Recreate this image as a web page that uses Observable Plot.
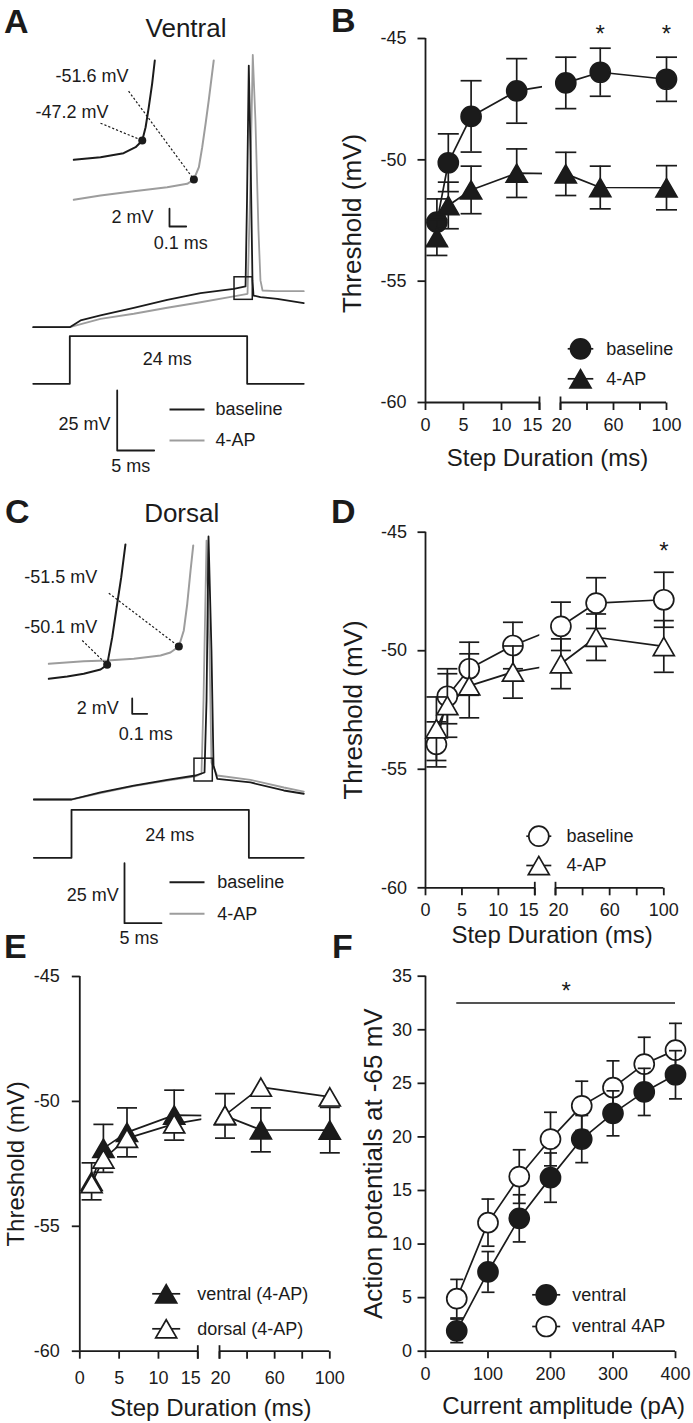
<!DOCTYPE html>
<html>
<head>
<meta charset="utf-8">
<script src="https://cdn.jsdelivr.net/npm/d3@7"></script>
<script src="https://cdn.jsdelivr.net/npm/@observablehq/plot@0.6"></script>
<style>
  html, body { margin: 0; padding: 0; background: #ffffff; }
  #fig { position: relative; width: 693px; height: 1423px; overflow: hidden; background: #fff; }
  #fig > svg { position: absolute; }
</style>
</head>
<body>
<div id="fig"></div>
<script>
// ================= DATA =================
// Panels B, D, E: spike threshold (mV) vs step duration (ms), mean and SEM
const durations = [1.5, 3, 6, 12, 24, 50, 100];
const ventralBaseline    = [-52.57, -50.12, -48.21, -47.16, -46.83, -46.39, -46.68];
const ventralBaselineSem = [0.96, 1.19, 1.47, 1.33, 1.06, 0.99, 0.91];
const ventral4AP         = [-53.20, -51.88, -51.24, -50.55, -50.58, -51.14, -51.15];
const ventral4APSem      = [0.74, 0.96, 0.98, 1.00, 0.89, 0.88, 0.91];
const dorsalBaseline     = [-53.95, -51.92, -50.76, -49.78, -48.97, -47.99, -47.85];
const dorsalBaselineSem  = [0.95, 1.16, 1.12, 0.98, 1.02, 1.07, 1.16];
const dorsal4AP          = [-53.29, -52.31, -51.48, -50.90, -50.55, -49.43, -49.82];
const dorsal4APSem       = [1.34, 1.34, 1.35, 1.10, 1.05, 0.98, 1.09];

// Panel F: action potentials at -65 mV vs current amplitude (pA)
const currentAmplitudes = [50, 100, 150, 200, 250, 300, 350, 400];
const apsVentral        = [1.9, 7.4, 12.4, 16.2, 19.8, 22.2, 24.2, 25.8];
const apsVentralSem     = [1.1, 1.9, 2.2, 2.3, 2.2, 2.1, 2.2, 2.25];
const apsVentral4AP     = [4.9, 12.0, 16.3, 19.8, 22.9, 24.6, 26.8, 28.1];
const apsVentral4APSem  = [1.8, 2.2, 2.5, 2.5, 2.3, 2.5, 2.5, 2.5];

// Axis ticks
const thresholdTicks = [-60, -55, -50, -45];
const durationTicks = [0, 5, 10, 15, 20, 40, 60, 80, 100];
const durationTickLabels = ["0", "5", "10", "15", "20", "", "60", "", "100"];
const durationSegments = [[0, 15], [20, 100]];
const currentTicks = [0, 100, 200, 300, 400];
const apTicks = [0, 5, 10, 15, 20, 25, 30, 35];

// Panel A (ventral) membrane-potential traces: time (ms from step onset), Vm (mV)
const ventralBaseT  = [-4.95, 0, 1.45, 4.15, 8.66, 13.18, 17.69, 22.19, 23.78, 23.98, 24.22, 24.45, 24.72, 24.86, 25.80, 28.07, 31.66];
const ventralBaseV  = [-65, -65, -62.2, -60.1, -56.9, -53.6, -50.8, -49.0, -48.0, -12.2, 44.0, 8.6, -45.5, -51.8, -52.5, -53.2, -55.0];
const ventral4APT   = [-4.95, 0, 4.15, 8.66, 13.18, 17.69, 22.19, 24.05, 24.38, 24.76, 25.12, 25.53, 25.80, 26.08, 27.83, 31.66];
const ventral4APV   = [-65, -65, -61.5, -59.4, -56.9, -54.6, -52.2, -51.1, -12.2, 48.5, 21.1, -24.7, -45.5, -49.7, -50.0, -50.0];
// Panel A inset (expanded onset): time (ms), Vm (mV)
const ventralInsetBaseT = [0, 0.16, 0.298, 0.37, 0.40, 0.41, 0.43, 0.449, 0.469, 0.485];
const ventralInsetBaseV = [-49.37, -49.08, -48.63, -47.95, -47.39, -47.2, -45.71, -43.46, -40.83, -38.21];
const ventralInset4APT  = [0, 0.16, 0.359, 0.559, 0.679, 0.719, 0.749, 0.769, 0.789, 0.808, 0.838];
const ventralInset4APV  = [-53.86, -53.38, -52.9, -52.45, -52.07, -51.58, -50.2, -47.95, -45.32, -42.7, -38.21];
const ventralThrT = [0.41, 0.719];
const ventralThrV = [-47.2, -51.58];
const ventralThrLabels = ["-47.2 mV", "-51.6 mV"];

// Panel C (dorsal) traces
const dorsalBaseT = [-5.1, 0, 3.92, 8.43, 12.95, 16.78, 18.0, 18.27, 18.54, 18.94, 19.22, 19.72, 24.22, 28.73, 31.43];
const dorsalBaseV = [-65, -65, -62.0, -59.2, -56.8, -55.0, -53.75, -23.75, 44.6, -2.9, -50.8, -56.4, -57.9, -61.25, -62.6];
const dorsal4APT  = [-5.1, 0, 3.92, 8.43, 12.95, 16.78, 17.59, 17.86, 18.27, 18.67, 18.94, 19.72, 24.22, 28.73, 31.43];
const dorsal4APV  = [-65, -65, -62.3, -59.4, -57.1, -55.4, -54.2, -23.75, 42.9, -2.9, -49.6, -55.0, -56.8, -60.0, -61.7];
const dorsalInsetBaseT = [0, 0.123, 0.233, 0.345, 0.389, 0.423, 0.456, 0.483, 0.511];
const dorsalInsetBaseV = [-55.69, -55.4, -55.05, -54.49, -53.88, -50.29, -45.95, -42.5, -38.25];
const dorsalInset4APT  = [0, 0.233, 0.389, 0.567, 0.745, 0.811, 0.867, 0.9, 0.923, 0.945, 0.963];
const dorsalInset4APV  = [-53.75, -53.41, -53.32, -53.1, -52.67, -52.28, -51.5, -49.42, -45.95, -41.63, -38.38];
const dorsalThrT = [0.389, 0.867];
const dorsalThrV = [-53.88, -51.5];
const dorsalThrLabels = ["-50.1 mV", "-51.5 mV"];

// Current-step command (normalised level) and step duration
const stepDuration = 24;
const stepLevels = [0, 0, 1, 1, 0, 0];

// ================= STYLE / HELPERS =================
const INK = "#1b1b1b", GRAY = "#9d9d9d";
const FONT = "'Liberation Sans', Arial, Helvetica, sans-serif";
const fig = document.getElementById("fig");
const baseStyle = {background: "none", overflow: "visible", fontFamily: FONT, color: INK};
function place(svg, left, top) {
  svg.style.position = "absolute";
  svg.style.left = left + "px";
  svg.style.top = top + "px";
  svg.style.maxWidth = "none";
  fig.appendChild(svg);
}
const SYM = {
  hBar:  {draw(c, s) { const r = Math.sqrt(s / Math.PI); c.moveTo(-r, 0); c.lineTo(r, 0); }},
  hLeft: {draw(c, s) { const r = Math.sqrt(s / Math.PI); c.moveTo(0, 0); c.lineTo(-r, 0); }},
  vDown: {draw(c, s) { const r = Math.sqrt(s / Math.PI); c.moveTo(0, 0); c.lineTo(0, r); }},
  vBar:  {draw(c, s) { const r = Math.sqrt(s / Math.PI); c.moveTo(0, -r * 0.8); c.lineTo(0, r); }},
  tri:   {draw(c, s) { const r = Math.sqrt(s / Math.PI), h = r * Math.sqrt(3);
                       c.moveTo(0, -h / 2); c.lineTo(r, h / 2); c.lineTo(-r, h / 2); c.closePath(); }}
};
const rowsOf = (T, V) => T.map((t, i) => ({t, v: V[i]}));
const TXT = {fill: INK, lineAnchor: "middle"};

// ================= TRACE PANELS (A, C) =================
function tracePanel(c) {
  const stepT = [c.stepStart, 0, 0, stepDuration, stepDuration, c.stepEnd];
  const step = stepT.map((t, i) => ({t, level: stepLevels[i]}));
  const bar = c.bar;
  const barPath = [{t: bar.t, v: bar.v + 25}, {t: bar.t, v: bar.v}, {t: bar.t + 5, v: bar.v}];

  const mainMarks = [
    Plot.line(rowsOf(c.grayT, c.grayV), {x: "t", y: "v", stroke: GRAY, strokeWidth: 1.8}),
    Plot.line(rowsOf(c.blackT, c.blackV), {x: "t", y: "v", stroke: INK, strokeWidth: 1.8}),
    Plot.rect([c.box], {x1: "t1", x2: "t2", y1: "v1", y2: "v2", fill: "none", stroke: INK, strokeWidth: 1.5}),
    Plot.line(barPath, {x: "t", y: "v", stroke: INK, strokeWidth: 1.8}),
    Plot.text([{t: bar.t, v: bar.v + 12.5, s: "25 mV"}], {...TXT, x: "t", y: "v", text: "s", textAnchor: "end", dx: c.barMvDx, dy: c.barMvDy, fontSize: 18}),
    Plot.text([{t: bar.t + 2.5, v: bar.v, s: "5 ms"}], {...TXT, x: "t", y: "v", text: "s", dx: c.barMsDx, dy: c.barMsDy, fontSize: 18})
  ];
  c.legend.forEach((item, i) => {
    mainMarks.push(Plot.dot([item], {frameAnchor: "top-left", dx: c.legX, dy: c.legY + i * c.legGap, symbol: SYM.hBar, r: 17.5, stroke: item.color, strokeWidth: 2, fill: "none"}));
    mainMarks.push(Plot.text([item], {...TXT, frameAnchor: "top-left", dx: c.legTextX, dy: c.legY + i * c.legGap, text: "label", textAnchor: "start", fontSize: 18}));
  });
  place(Plot.plot({width: 340, height: 480, margin: 0, style: baseStyle,
    x: {domain: c.mainX, axis: null}, y: {domain: c.mainY, axis: null}, marks: mainMarks}), 0, c.top);

  place(Plot.plot({width: 340, height: 480, margin: 0, style: baseStyle,
    x: {domain: c.mainX, axis: null}, y: {domain: c.stepY, axis: null},
    marks: [
      Plot.line(step, {x: "t", y: "level", stroke: INK, strokeWidth: 1.8}),
      Plot.text([{t: stepDuration / 2, level: 0.5, s: stepDuration + " ms"}], {...TXT, x: "t", y: "level", text: "s", dx: c.stepTextDx, dy: c.stepTextDy, fontSize: 18})
    ]}), 0, c.top);

  const ib = c.insetBar;
  const insetBarPath = [{t: ib.t, v: ib.v + 2}, {t: ib.t, v: ib.v}, {t: ib.t + 0.1, v: ib.v}];
  const thr = c.thrT.map((t, i) => ({t, v: c.thrV[i], label: c.thrLabels[i], ...c.leaders[i]}));
  const insetMarks = [
    Plot.line(rowsOf(c.inGrayT, c.inGrayV), {x: "t", y: "v", stroke: GRAY, strokeWidth: 2}),
    Plot.line(rowsOf(c.inBlackT, c.inBlackV), {x: "t", y: "v", stroke: INK, strokeWidth: 2}),
    Plot.link(thr, {x1: "lt", y1: "lv", x2: "t", y2: "v", stroke: INK, strokeWidth: 1.2, strokeDasharray: "2.2,2"}),
    Plot.dot(thr, {x: "t", y: "v", r: 4, fill: INK}),
    Plot.line(insetBarPath, {x: "t", y: "v", stroke: INK, strokeWidth: 1.8}),
    Plot.text([{t: ib.t, v: ib.v + 1, s: "2 mV"}], {...TXT, x: "t", y: "v", text: "s", textAnchor: "end", dx: c.inMvDx, dy: c.inMvDy, fontSize: 18}),
    Plot.text([{t: ib.t + 0.05, v: ib.v, s: "0.1 ms"}], {...TXT, x: "t", y: "v", text: "s", dx: c.inMsDx, dy: c.inMsDy, fontSize: 18})
  ];
  thr.forEach(d => insetMarks.push(Plot.text([d], {...TXT, x: "lt", y: "lv", text: "label", textAnchor: "end", dx: d.dx, dy: d.dy, fontSize: 18})));
  place(Plot.plot({width: 340, height: 480, margin: 0, style: baseStyle,
    x: {domain: c.insetX, axis: null}, y: {domain: c.insetY, axis: null}, marks: insetMarks}), 0, c.top);
}

const traceLegend = [{label: "baseline", color: INK}, {label: "4-AP", color: GRAY}];

tracePanel({
  top: 0,
  mainX: [-9.378, 36.631], mainY: [-128.875, 71.125], stepY: [-2.031, 8.053],
  insetX: [-0.4389, 1.597], insetY: [-85.40, -31.47],
  blackT: ventralBaseT, blackV: ventralBaseV, grayT: ventral4APT, grayV: ventral4APV,
  inBlackT: ventralInsetBaseT, inBlackV: ventralInsetBaseV, inGrayT: ventralInset4APT, inGrayV: ventralInset4APV,
  thrT: ventralThrT, thrV: ventralThrV, thrLabels: ventralThrLabels,
  leaders: [{lt: 0.160, lv: -45.256, dx: 8, dy: -10.7}, {lt: 0.328, lv: -41.66, dx: 0, dy: -14.7}],
  box: {t1: 22.29, t2: 24.76, v1: -53.6, v2: -44.2},
  stepStart: -4.95, stepEnd: 31.66, stepTextDx: 8.7, stepTextDy: -1,
  bar: {t: 6.414, v: -116.375}, barMvDx: -6.7, barMvDy: 4, barMsDx: -5, barMsDy: 16,
  insetBar: {t: 0.573, v: -56.86}, inMvDx: -16, inMvDy: 0, inMsDx: 3, inMsDy: 17,
  legend: traceLegend, legX: 186.5, legY: 409, legGap: 31, legTextX: 215
});

tracePanel({
  top: 470,
  mainX: [-9.608, 36.400], mainY: [-127.917, 72.083], stepY: [-1.931, 8.069],
  insetX: [-0.322, 1.9447], insetY: [-90.98, -28.643],
  blackT: dorsalBaseT, blackV: dorsalBaseV, grayT: dorsal4APT, grayV: dorsal4APV,
  inBlackT: dorsalInsetBaseT, inBlackV: dorsalInsetBaseV, inGrayT: dorsalInset4APT, inGrayV: dorsalInset4APV,
  thrT: dorsalThrT, thrV: dorsalThrV, thrLabels: dorsalThrLabels,
  leaders: [{lt: 0.223, lv: -50.72, dx: 15, dy: -13.7}, {lt: 0.4, lv: -44.58, dx: -11.6, dy: -16}],
  box: {t1: 16.64, t2: 19.12, v1: -57.5, v2: -48.0},
  stepStart: -5.1, stepEnd: 31.43, stepTextDx: 9.5, stepTextDy: 1.7,
  bar: {t: 7.172, v: -116.54}, barMvDx: -5.7, barMvDy: 2.3, barMsDx: -4, barMsDy: 15,
  insetBar: {t: 0.556, v: -60.24}, inMvDx: -13.4, inMvDy: 2, inMsDx: 6, inMsDy: 20,
  legend: traceLegend, legX: 186.5, legY: 411.7, legGap: 31.6, legTextX: 216.7
});

// ================= THRESHOLD PANELS (B, D, E) =================
function thresholdPanel(L, series, legendItems, sig) {
  const yBottom = thresholdTicks[0], yTop = thresholdTicks[thresholdTicks.length - 1];
  const gap = [durationSegments[0][1], durationSegments[1][0]];
  const marks = [];
  const rows = series.map(s => s.y.map((y, i) => ({x: durations[i], y, e: s.err ? s.err[i] : 0})));
  rows.forEach(r => marks.push(Plot.line(r, {x: "x", y: "y", stroke: INK, strokeWidth: 1.7})));
  marks.push(Plot.rect([gap], {x1: g => g[0], x2: g => g[1], y1: () => yBottom, y2: () => yTop, fill: "white", insetLeft: L.maskInset}));
  series.forEach((s, k) => {
    const r = rows[k];
    if (s.showErr) {
      marks.push(Plot.ruleX(r, {x: "x", y1: d => d.y - d.e, y2: d => d.y + d.e, stroke: INK, strokeWidth: 1.7}));
      marks.push(Plot.dot(r, {x: "x", y: d => d.y + d.e, symbol: SYM.hBar, r: L.cap, stroke: INK, strokeWidth: 1.7, fill: "none"}));
      marks.push(Plot.dot(r, {x: "x", y: d => d.y - d.e, symbol: SYM.hBar, r: L.cap, stroke: INK, strokeWidth: 1.7, fill: "none"}));
    }
    marks.push(Plot.dot(r, {x: "x", y: "y", symbol: s.shape === "circle" ? "circle" : SYM.tri,
      r: s.shape === "circle" ? 10 : 10.5, fill: s.filled ? INK : "white", stroke: INK, strokeWidth: 1.7}));
  });
  // axes
  marks.push(Plot.ruleX([0], {y1: yBottom, y2: yTop, stroke: INK, strokeWidth: 1.8}));
  marks.push(Plot.ruleY(durationSegments, {y: () => yBottom, x1: d => d[0], x2: d => d[1], stroke: INK, strokeWidth: 1.8}));
  marks.push(Plot.dot(thresholdTicks, {x: () => 0, y: d => d, symbol: SYM.hLeft, r: 8, stroke: INK, strokeWidth: 1.8, fill: "none"}));
  marks.push(Plot.text(thresholdTicks, {...TXT, x: () => 0, y: d => d, text: d => String(d), textAnchor: "end", dx: L.yLabDx, fontSize: 18}));
  marks.push(Plot.dot(durationTicks, {x: d => d, y: () => yBottom, symbol: SYM.vDown, r: 7.5, stroke: INK, strokeWidth: 1.8, fill: "none"}));
  marks.push(Plot.dot(gap, {x: d => d, y: () => yBottom, symbol: SYM.vBar, r: 7.5, stroke: INK, strokeWidth: 1.8, fill: "none"}));
  const labelRows = durationTicks.map((d, i) => ({d, s: durationTickLabels[i]}));
  marks.push(Plot.text(labelRows.filter(r => r.d !== gap[0] && r.d !== gap[1]), {...TXT, x: "d", y: () => yBottom, text: "s", dy: L.xLabDy, fontSize: 18}));
  marks.push(Plot.text(labelRows.filter(r => r.d === gap[0]), {...TXT, x: "d", y: () => yBottom, text: "s", dy: L.xLabDy, dx: L.dx15, fontSize: 18}));
  marks.push(Plot.text(labelRows.filter(r => r.d === gap[1]), {...TXT, x: "d", y: () => yBottom, text: "s", dy: L.xLabDy, dx: L.dx20, fontSize: 18}));
  marks.push(Plot.text(["Step Duration (ms)"], {...TXT, frameAnchor: "bottom", textAnchor: "middle", text: d => d, dx: L.xTitleDx, dy: L.xTitleDy, fontSize: 24}));
  marks.push(Plot.text(["Threshold (mV)"], {...TXT, frameAnchor: "left", textAnchor: "middle", text: d => d, rotate: -90, dx: L.yTitleDx, dy: L.yTitleDy, fontSize: L.yTitleSize}));
  // legend
  legendItems.forEach((item, i) => {
    const dy = L.legDy + i * L.legGap;
    marks.push(Plot.dot([item], {frameAnchor: "bottom-right", dx: L.legDx, dy, symbol: SYM.hBar, r: L.legHalf, stroke: INK, strokeWidth: 1.7, fill: "none"}));
    marks.push(Plot.dot([item], {frameAnchor: "bottom-right", dx: L.legDx, dy, symbol: item.shape === "circle" ? "circle" : SYM.tri,
      r: item.shape === "circle" ? 10 : 10.5, fill: item.filled ? INK : "white", stroke: INK, strokeWidth: 1.7}));
    marks.push(Plot.text([item], {...TXT, frameAnchor: "bottom-right", dx: L.legTextDx, dy, text: "label", textAnchor: "start", fontSize: 18}));
  });
  if (sig.length) marks.push(Plot.text(sig, {...TXT, x: "x", y: "y", text: () => "*", fontSize: 24, dy: 6}));

  place(Plot.plot({
    width: L.width, height: L.height,
    marginTop: L.m[0], marginRight: L.m[1], marginBottom: L.m[2], marginLeft: L.m[3],
    style: baseStyle,
    x: {type: "linear", domain: [0, gap[0], gap[1], 100], range: L.xRange, axis: null},
    y: {domain: [yBottom, yTop], range: L.yRange, axis: null},
    marks
  }), L.left, L.top);
}

// Panel B
thresholdPanel(
  {left: 340, top: 0, width: 353, height: 480, m: [38, 27, 78, 85],
   xRange: [85, 199, 220, 326], yRange: [402, 38], maskInset: 3, cap: 10.5,
   yLabDx: -19, xLabDy: 23, dx15: -7, dx20: 1,
   xTitleDx: 1.5, xTitleDy: 56, yTitleDx: -73.3, yTitleDy: 3, yTitleSize: 26,
   legDx: -86, legDy: -53.7, legGap: 30, legHalf: 12.8, legTextDx: -60.3},
  [{y: ventralBaseline, err: ventralBaselineSem, shape: "circle", filled: true, showErr: true},
   {y: ventral4AP, err: ventral4APSem, shape: "triangle", filled: true, showErr: true}],
  [{label: "baseline", shape: "circle", filled: true}, {label: "4-AP", shape: "triangle", filled: true}],
  [{x: 50, y: -44.57}, {x: 100, y: -44.57}]
);

// Panel D
thresholdPanel(
  {left: 340, top: 470, width: 353, height: 480, m: [61.7, 29.7, 62.7, 85],
   xRange: [85, 194.3, 215, 323.3], yRange: [417.3, 61.7], maskInset: 5, cap: 10,
   yLabDx: -18.5, xLabDy: 22.7, dx15: -6, dx20: 3,
   xTitleDx: 7.5, xTitleDy: 47.4, yTitleDx: -72.3, yTitleDy: 0, yTitleSize: 26,
   legDx: -125, legDy: -51.6, legGap: 29.3, legHalf: 12.5, legTextDx: -97.3},
  [{y: dorsalBaseline, err: dorsalBaselineSem, shape: "circle", filled: false, showErr: true},
   {y: dorsal4AP, err: dorsal4APSem, shape: "triangle", filled: false, showErr: true}],
  [{label: "baseline", shape: "circle", filled: false}, {label: "4-AP", shape: "triangle", filled: false}],
  [{x: 100, y: -45.56}]
);

// Panel E
thresholdPanel(
  {left: 0, top: 950, width: 340, height: 473, m: [26, 10.7, 72.3, 79.3],
   xRange: [79.3, 197.3, 219, 329.3], yRange: [400.7, 26], maskInset: 4, cap: 10,
   yLabDx: -20, xLabDy: 27, dx15: -7, dx20: 1,
   xTitleDx: 6, xTitleDy: 57.6, yTitleDx: -63.5, yTitleDy: 0, yTitleSize: 24,
   legDx: -163.6, legDy: -57.4, legGap: 35, legHalf: 14, legTextDx: -132.6},
  [{y: ventral4AP, err: ventral4APSem, shape: "triangle", filled: true, showErr: true},
   {y: dorsal4AP, err: null, shape: "triangle", filled: false, showErr: false}],
  [{label: "ventral (4-AP)", shape: "triangle", filled: true}, {label: "dorsal (4-AP)", shape: "triangle", filled: false}],
  []
);

// ================= PANEL F =================
(function apPanel() {
  const L = {left: 340, top: 950, width: 353, height: 473, m: [25.7, 18, 72.3, 85]};
  const v = currentAmplitudes.map((x, i) => ({x, y: apsVentral[i], e: apsVentralSem[i]}));
  const a = currentAmplitudes.map((x, i) => ({x, y: apsVentral4AP[i], e: apsVentral4APSem[i]}));
  const yMin = apTicks[0], yMax = apTicks[apTicks.length - 1];
  const xMin = currentTicks[0], xMax = currentTicks[currentTicks.length - 1];
  const err = (r) => [
    Plot.ruleX(r, {x: "x", y1: d => d.y - d.e, y2: d => d.y + d.e, stroke: INK, strokeWidth: 1.7}),
    Plot.dot(r, {x: "x", y: d => d.y + d.e, symbol: SYM.hBar, r: 6.5, stroke: INK, strokeWidth: 1.7, fill: "none"}),
    Plot.dot(r, {x: "x", y: d => d.y - d.e, symbol: SYM.hBar, r: 6.5, stroke: INK, strokeWidth: 1.7, fill: "none"})
  ];
  const legendItems = [{label: "ventral", filled: true}, {label: "ventral 4AP", filled: false}];
  const marks = [
    Plot.line(a, {x: "x", y: "y", stroke: INK, strokeWidth: 1.7}),
    Plot.line(v, {x: "x", y: "y", stroke: INK, strokeWidth: 1.7}),
    ...err(a),
    Plot.dot(a, {x: "x", y: "y", r: 10, fill: "white", stroke: INK, strokeWidth: 1.7}),
    ...err(v),
    Plot.dot(v, {x: "x", y: "y", r: 10, fill: INK, stroke: INK, strokeWidth: 1.7}),
    // axes
    Plot.ruleX([xMin], {y1: yMin, y2: yMax, stroke: INK, strokeWidth: 1.8}),
    Plot.ruleY([yMin], {x1: xMin, x2: xMax, stroke: INK, strokeWidth: 1.8}),
    Plot.dot(apTicks, {x: () => xMin, y: d => d, symbol: SYM.hLeft, r: 8, stroke: INK, strokeWidth: 1.8, fill: "none"}),
    Plot.text(apTicks, {...TXT, x: () => xMin, y: d => d, text: d => String(d), textAnchor: "end", dx: -13.5, fontSize: 18}),
    Plot.dot(currentTicks, {x: d => d, y: () => yMin, symbol: SYM.vDown, r: 7, stroke: INK, strokeWidth: 1.8, fill: "none"}),
    Plot.text(currentTicks, {...TXT, x: d => d, y: () => yMin, text: d => String(d), dy: 23.5, fontSize: 18}),
    Plot.text(["Current amplitude (pA)"], {...TXT, frameAnchor: "bottom", textAnchor: "middle", text: d => d, dx: 13, dy: 55, fontSize: 24}),
    Plot.text(["Action potentials at -65 mV"], {...TXT, frameAnchor: "left", textAnchor: "middle", text: d => d, rotate: -90, dx: -52.3, dy: 0, fontSize: 26}),
    // significance
    Plot.ruleY([{y: 32.5, x1: 50, x2: 400}], {y: "y", x1: "x1", x2: "x2", stroke: INK, strokeWidth: 1.6}),
    Plot.text([{x: 225, y: 34.15}], {...TXT, x: "x", y: "y", text: () => "*", fontSize: 24, dy: 6})
  ];
  legendItems.forEach((item, i) => {
    const dy = -56.4 + i * 31.7;
    marks.push(Plot.dot([item], {frameAnchor: "bottom-right", dx: -129.3, dy, symbol: SYM.hBar, r: 14, stroke: INK, strokeWidth: 1.7, fill: "none"}));
    marks.push(Plot.dot([item], {frameAnchor: "bottom-right", dx: -129.3, dy, r: 10, fill: item.filled ? INK : "white", stroke: INK, strokeWidth: 1.7}));
    marks.push(Plot.text([item], {...TXT, frameAnchor: "bottom-right", dx: -103.3, dy, text: "label", textAnchor: "start", fontSize: 18}));
  });
  place(Plot.plot({
    width: L.width, height: L.height,
    marginTop: L.m[0], marginRight: L.m[1], marginBottom: L.m[2], marginLeft: L.m[3],
    style: baseStyle,
    x: {domain: [xMin, xMax], range: [85, 335], axis: null},
    y: {domain: [yMin, yMax], range: [400.7, 25.7], axis: null},
    marks
  }), L.left, L.top);
})();

// ================= PANEL LETTERS AND TITLES =================
const overlay = d3.create("svg").attr("width", 693).attr("height", 1423)
  .style("position", "absolute").style("left", "0px").style("top", "0px")
  .style("pointer-events", "none").style("font-family", FONT).attr("fill", INK);
const letters = [["A", 4, 33], ["B", 331, 32], ["C", 5, 523.3], ["D", 331, 523.3], ["E", 4, 957.5], ["F", 332, 957.5]];
overlay.selectAll("text.letter").data(letters).join("text").attr("class", "letter")
  .attr("x", d => d[1]).attr("y", d => d[2])
  .attr("font-size", 34).attr("font-weight", "bold").text(d => d[0]);
const titles = [["Ventral", 186, 37], ["Dorsal", 181.7, 521.7]];
overlay.selectAll("text.title").data(titles).join("text").attr("class", "title")
  .attr("x", d => d[1]).attr("y", d => d[2]).attr("text-anchor", "middle")
  .attr("font-size", 26).text(d => d[0]);
fig.appendChild(overlay.node());
</script>
</body>
</html>
